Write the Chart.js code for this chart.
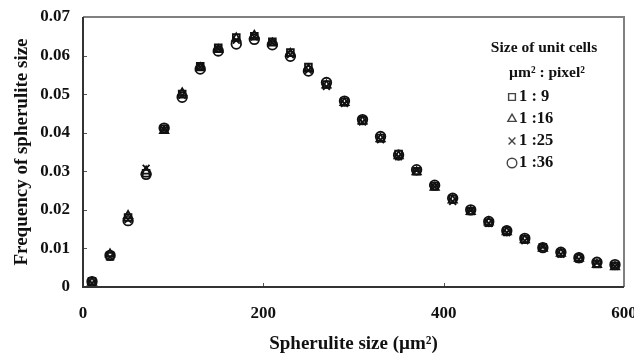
<!DOCTYPE html>
<html>
<head>
<meta charset="utf-8">
<script src="https://cdn.jsdelivr.net/npm/chart.js@4"></script>
<style>
  body { margin: 0; background: #fff; }
</style>
</head>
<body>
<canvas id="spheruliteChart" width="634" height="356"></canvas>
<script>
// spherulite size bins (um^2)
const sizes = [10, 30, 50, 70, 90, 110, 130, 150, 170, 190, 210, 230, 250, 270, 290,
  310, 330, 350, 370, 390, 410, 430, 450, 470, 490, 510, 530, 550, 570, 590];

// frequency, one array per unit cell size (um^2 : pixel^2)
const cells9 = [0.0015, 0.0080, 0.0180, 0.0295, 0.0410, 0.0500, 0.0572, 0.0620, 0.0647, 0.0650,
  0.0636, 0.0608, 0.0570, 0.0525, 0.0480, 0.0432, 0.0386, 0.0345, 0.0300, 0.0262,
  0.0228, 0.0197, 0.0167, 0.0145, 0.0124, 0.0103, 0.0088, 0.0075, 0.0060, 0.0055];
const cells16 = [0.0012, 0.0085, 0.0185, 0.0300, 0.0405, 0.0503, 0.0568, 0.0615, 0.0645, 0.0652,
  0.0632, 0.0605, 0.0565, 0.0523, 0.0478, 0.0430, 0.0384, 0.0340, 0.0298, 0.0258,
  0.0225, 0.0195, 0.0168, 0.0143, 0.0122, 0.0100, 0.0087, 0.0074, 0.0058, 0.0052];
const cells25 = [0.0010, 0.0078, 0.0175, 0.0308, 0.0408, 0.0497, 0.0570, 0.0618, 0.0640, 0.0648,
  0.0634, 0.0602, 0.0562, 0.0520, 0.0476, 0.0428, 0.0382, 0.0338, 0.0302, 0.0260,
  0.0222, 0.0198, 0.0165, 0.0141, 0.0120, 0.0104, 0.0085, 0.0072, 0.0062, 0.0053];
const cells36 = [0.0014, 0.0082, 0.0172, 0.0292, 0.0412, 0.0492, 0.0565, 0.0612, 0.0630, 0.0642,
  0.0628, 0.0598, 0.0560, 0.0530, 0.0482, 0.0434, 0.0390, 0.0342, 0.0304, 0.0264,
  0.0230, 0.0200, 0.0170, 0.0146, 0.0126, 0.0102, 0.0090, 0.0076, 0.0064, 0.0058];

const legendLabels = ['1 : 9', '1 :16', '1 :25', '1 :36'];
const markers = ['rect', 'triangle', 'crossRot', 'circle'];
const xTicks = [0, 200, 400, 600];
const yTicks = [0, 0.01, 0.02, 0.03, 0.04, 0.05, 0.06, 0.07];

const serif = "'Liberation Serif', 'Times New Roman', serif";

const makeSet = (label, values, style) => ({
  label: label,
  data: values.map((v, i) => ({ x: sizes[i], y: v })),
  pointStyle: style,
  pointRadius: 4.8,
  pointHoverRadius: 4.8,
  pointBorderColor: '#111',
  pointBackgroundColor: 'rgba(255,255,255,0)',
  pointBorderWidth: 1.8,
  showLine: false
});

// frame + inward tick marks
const framePlugin = {
  id: 'frame',
  afterDatasetsDraw(chart) {
    const { ctx, chartArea: a, scales } = chart;
    ctx.save();
    ctx.lineWidth = 1;
    ctx.strokeStyle = '#555';
    yTicks.slice(1, -1).forEach(v => {
      const y = Math.round(scales.y.getPixelForValue(v)) + 0.5;
      ctx.beginPath(); ctx.moveTo(a.left, y); ctx.lineTo(a.left + 4, y); ctx.stroke();
    });
    xTicks.slice(1, -1).forEach(v => {
      const x = Math.round(scales.x.getPixelForValue(v)) + 0.5;
      ctx.beginPath(); ctx.moveTo(x, a.bottom); ctx.lineTo(x, a.bottom - 4); ctx.stroke();
    });
    ctx.lineWidth = 2;
    ctx.strokeStyle = '#808080';
    ctx.beginPath();
    ctx.moveTo(a.left, a.top); ctx.lineTo(a.right, a.top); ctx.lineTo(a.right, a.bottom);
    ctx.stroke();
    ctx.strokeStyle = '#333';
    ctx.beginPath();
    ctx.moveTo(a.left, a.top); ctx.lineTo(a.left, a.bottom); ctx.lineTo(a.right, a.bottom);
    ctx.stroke();
    ctx.restore();
  }
};

// legend block drawn inside the plot
const legendPlugin = {
  id: 'cellLegend',
  afterDraw(chart) {
    const { ctx } = chart;
    ctx.save();
    ctx.fillStyle = '#111';
    ctx.textBaseline = 'middle';
    ctx.font = 'bold 15.5px ' + serif;
    ctx.textAlign = 'center';
    ctx.fillText('Size of unit cells', 544, 48);
    ctx.fillText('\u00b5m\u00b2 : pixel\u00b2', 547, 73);
    ctx.textAlign = 'left';
    legendLabels.forEach((txt, i) => {
      const y = 97 + i * 22;
      ctx.font = 'bold 16.5px ' + serif;
      ctx.fillStyle = '#111';
      ctx.fillText(txt, 519, y);
      ctx.fillStyle = '#fff';
      ctx.strokeStyle = '#444';
      ctx.lineWidth = 1.4;
      Chart.helpers.drawPoint(ctx, { pointStyle: markers[i], radius: 4.8, rotation: 0, borderWidth: 1.4 }, 512, y);
    });
    ctx.restore();
  }
};

new Chart(document.getElementById('spheruliteChart'), {
  type: 'scatter',
  data: {
    datasets: [
      makeSet(legendLabels[0], cells9, markers[0]),
      makeSet(legendLabels[1], cells16, markers[1]),
      makeSet(legendLabels[2], cells25, markers[2]),
      makeSet(legendLabels[3], cells36, markers[3])
    ]
  },
  options: {
    responsive: false,
    animation: false,
    layout: { padding: { left: 0, right: 10, top: 17, bottom: 0 } },
    plugins: { legend: { display: false }, tooltip: { enabled: false } },
    scales: {
      x: {
        type: 'linear',
        min: 0, max: 600,
        afterBuildTicks: s => { s.ticks = xTicks.map(v => ({ value: v })); },
        afterFit: s => { s.height = 69; s.paddingLeft = 0; s.paddingRight = 0; },
        grid: { display: false, drawTicks: false },
        border: { display: false },
        ticks: { color: '#111', padding: 16, maxRotation: 0, font: { family: serif, size: 17, weight: 'bold' } },
        title: {
          display: true,
          text: 'Spherulite size (\u00b5m\u00b2)',
          color: '#111',
          padding: { top: 0, bottom: 1 },
          font: { family: serif, size: 19, weight: 'bold' }
        }
      },
      y: {
        min: 0, max: 0.07,
        afterBuildTicks: s => { s.ticks = yTicks.map(v => ({ value: v })); },
        afterFit: s => { s.width = 83; s.paddingTop = 0; s.paddingBottom = 0; },
        grid: { display: false, drawTicks: false },
        border: { display: false },
        ticks: {
          color: '#111', padding: 13,
          font: { family: serif, size: 17, weight: 'bold' },
          callback: v => v === 0 ? '0' : v.toFixed(2)
        },
        title: {
          display: true,
          text: 'Frequency of spherulite size',
          color: '#111',
          padding: { top: 11, bottom: 0 },
          font: { family: serif, size: 19, weight: 'bold' }
        }
      }
    }
  },
  plugins: [framePlugin, legendPlugin]
});
</script>
</body>
</html>
